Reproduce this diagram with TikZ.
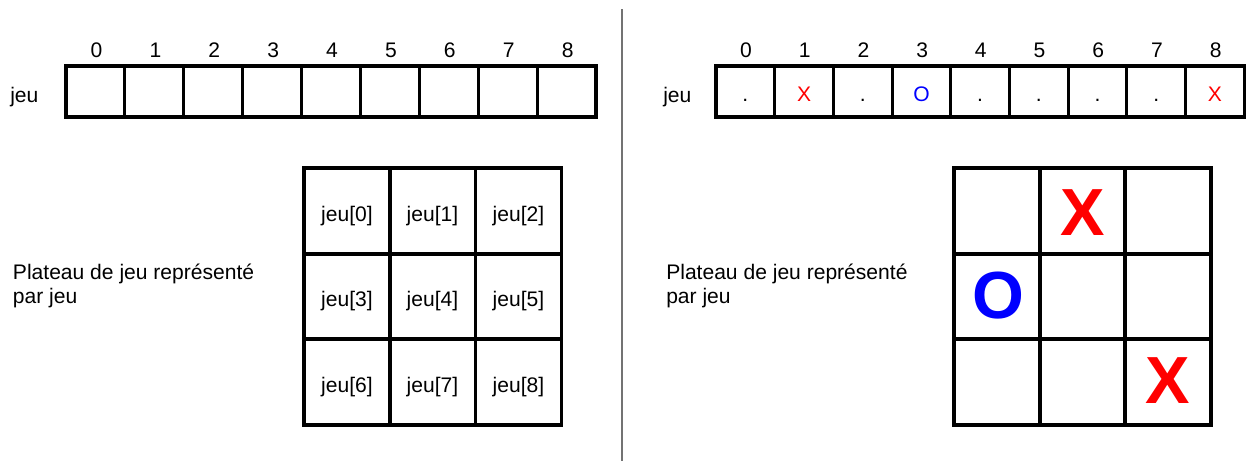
\documentclass[tikz,border=0pt]{standalone}
\usepackage{fontspec}
\setmainfont{Liberation Sans}
\begin{document}
\begin{tikzpicture}[x=0.75pt,y=-0.75pt,
  txt/.style={font=\fontsize{15.8pt}{18pt}\selectfont, inner sep=0pt},
  acell/.style={draw=black, line width=2.3pt, minimum width=58.9*0.75pt, minimum height=51*0.75pt, inner sep=0pt},
  bcell/.style={draw=black, line width=2.3pt, minimum width=58.7*0.75pt, minimum height=51*0.75pt, inner sep=0pt},
  gcell/.style={draw=black, line width=2.3pt, minimum width=86*0.75pt, minimum height=86*0.75pt, inner sep=0pt},
  big/.style={font=\fontsize{50pt}{55pt}\selectfont\bfseries, inner sep=0pt, anchor=base}]
\useasboundingbox (0,0) rectangle (1246,461);
% divider
\draw[line width=0.8pt, color=black!55] (622,9) coordinate (dtop) -- (622,461) coordinate (dbot);
% ---------- left array ----------
\node[txt, anchor=base west] (ljeu) at (10,102) {jeu};
\foreach \i in {0,...,8} {
  \node[acell] (la\i) at ({95.45+\i*58.89},91.5) {};
  \node[txt, anchor=base] (li\i) at ({96.5+\i*58.89},57) {\i};
}
% ---------- right array ----------
\node[txt, anchor=base west] (rjeu) at (663,102) {jeu};
\foreach \i/\v/\c in {0/./black,1/X/red,2/./black,3/O/blue,4/./black,5/./black,6/./black,7/./black,8/X/red} {
  \node[bcell] (ra\i) at ({745.35+\i*58.7},91.5) {};
  \node[txt, anchor=base] (ri\i) at ({746+\i*58.7},57) {\i};
  \node[txt, anchor=base, text=\c] (rv\i) at ({745.35+\i*58.7},101) {\v};
}
% ---------- left grid ----------
\foreach \r/\y in {0/211,1/296.5,2/382} {
  \foreach \c/\x in {0/347,1/432.5,2/518.5} {
    \pgfmathtruncatemacro{\k}{\r*3+\c}
    \node[gcell] (lg\k) at (\x,\y) {};
    \node[txt, anchor=base] (lt\k) at (\x,\y+10) {jeu[\k]};
  }
}
\node[txt, anchor=base west] (lplat) at (12.7,279) {Plateau de jeu représenté};
\node[txt, anchor=base west] (lpar) at (12.7,303) {par jeu};
% ---------- right grid ----------
\foreach \r/\y in {0/211,1/296.5,2/382} {
  \foreach \c/\x in {0/997,1/1082.5,2/1168} {
    \pgfmathtruncatemacro{\k}{\r*3+\c}
    \node[gcell] (rg\k) at (\x,\y) {};
  }
}
\node[big, text=red] (bx1) at (1082.5,235) {X};
\node[big, text=blue] (bo3) at (998,318) {O};
\node[big, text=red] (bx8) at (1167.5,403) {X};
\node[txt, anchor=base west] (rplat) at (666,279) {Plateau de jeu représenté};
\node[txt, anchor=base west] (rpar) at (666,303) {par jeu};
\end{tikzpicture}
\end{document}
